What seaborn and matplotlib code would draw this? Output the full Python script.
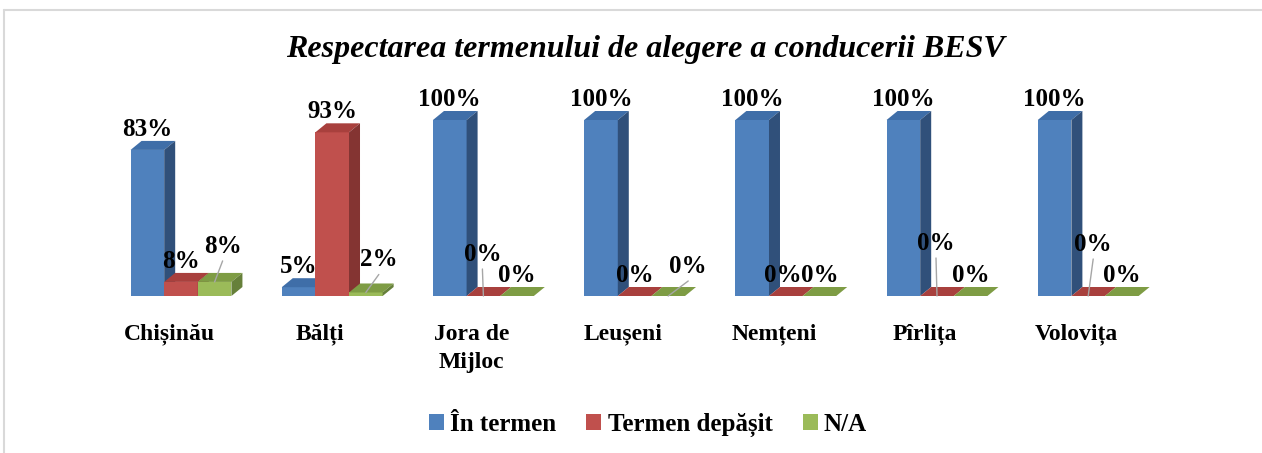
import pandas as pd
import seaborn as sns
import matplotlib.pyplot as plt
from matplotlib.patches import Polygon, Patch
from matplotlib.lines import Line2D
from matplotlib.transforms import ScaledTranslation

# data
categories = ["Chișinău", "Bălți", "Jora de\nMijloc", "Leușeni", "Nemțeni", "Pîrlița", "Volovița"]
series = ["În termen", "Termen depășit", "N/A"]
in_termen = [83, 5, 100, 100, 100, 100, 100]
termen_depasit = [8, 93, 0, 0, 0, 0, 0]
n_a = [8, 2, 0, 0, 0, 0, 0]

front = ["#4F81BD", "#C0504D", "#9BBB59"]
top = ["#3F6EA8", "#A8403D", "#7E9C44"]
side = ["#30507A", "#843432", "#66803A"]

rows = []
for s, vals in zip(series, [in_termen, termen_depasit, n_a]):
    for c, v in zip(categories, vals):
        rows.append({"raion": c, "serie": s, "val": v})
df = pd.DataFrame(rows)

sns.set_style("white")
plt.rcParams["font.family"] = ["Liberation Serif", "DejaVu Serif"]
plt.rcParams["text.color"] = "black"

W, H = 1262, 453
fig = plt.figure(figsize=(W / 100, H / 100), dpi=100)
ax = fig.add_axes([105.4 / W, (H - 296) / H, 1058.4 / W, 176 / H])

sns.barplot(data=df, x="raion", y="val", hue="serie", palette=front, width=0.667,
            gap=0, saturation=1, legend=False, ax=ax, linewidth=0)
ax.set_xlim(-0.5, 6.5)
ax.set_ylim(0, 100)

# pixel -> data
px = 7 / 1058.4
py = 100 / 176
dx, dy = 11 * px, 9 * py

# label tweaks: (series, category) -> (shift right px, shift up px, leader)
adjust = {
    (2, 0): (8, 15, True),
    (2, 1): (13, 12, True),
    (1, 2): (-1, 21, True),
    (2, 3): (20, 9, True),
    (1, 4): (-3, 0, False),
    (1, 5): (-1, 32, True),
    (1, 6): (5, 31, True),
}

for si, cont in enumerate(ax.containers):
    for ci, bar in enumerate(cont):
        x0, w, h = bar.get_x(), bar.get_width(), bar.get_height()
        z = 2 + ci * 3 + si
        bar.set_zorder(z)
        ax.add_patch(Polygon([(x0, h), (x0 + w, h), (x0 + w + dx, h + dy), (x0 + dx, h + dy)],
                             closed=True, fc=top[si], ec="none", zorder=z, clip_on=False))
        ax.add_patch(Polygon([(x0 + w, 0), (x0 + w, h), (x0 + w + dx, h + dy), (x0 + w + dx, dy)],
                             closed=True, fc=side[si], ec="none", zorder=z, clip_on=False))
        xc = x0 + w / 2
        sx, sy, leader = adjust.get((si, ci), (0, 0, False))
        tx = xc + sx * px
        ty = h + (14 + sy) * py
        ax.text(tx, ty, f"{h:.0f}%", ha="center", va="baseline", fontsize=18,
                fontweight="bold", color="black", zorder=50, clip_on=False)
        if leader:
            ax.plot([tx, xc], [ty - 8 * py, h], color="#A6A6A6", lw=1, zorder=49,
                    clip_on=False)

ax.set_xlabel("")
ax.set_ylabel("")
ax.set_yticks([])
ax.set_xticks(range(len(categories)))
ax.set_xticklabels(categories, fontsize=17, fontweight="bold", color="black",
                   linespacing=1.45)
ax.tick_params(axis="x", length=0, pad=20)
for lbl in ax.get_xticklabels():
    lbl.set_transform(lbl.get_transform() + ScaledTranslation(-0.12, 0, fig.dpi_scale_trans))
sns.despine(ax=ax, left=True, bottom=True)
ax.patch.set_alpha(0)

fig.text(645 / W, 1 - 50 / H, "Respectarea termenului de alegere a conducerii BESV",
         ha="center", va="center", fontsize=23, fontweight="bold", fontstyle="italic",
         color="black")

handles = [Patch(fc=c, ec="none") for c in front]
fig.legend(handles, series, loc="center", bbox_to_anchor=(648 / W, 1 - 425 / H), ncol=3,
           frameon=False, handlelength=0.6, handleheight=0.6, handletextpad=0.25,
           columnspacing=1.2, prop={"size": 18, "weight": "bold"})

fig.add_artist(Line2D([4 / W, 1], [1 - 10 / H] * 2, color="#D9D9D9", lw=1.5,
                      transform=fig.transFigure))
fig.add_artist(Line2D([4 / W] * 2, [0, 1 - 10 / H], color="#D9D9D9", lw=1.5,
                      transform=fig.transFigure))

fig.savefig("out.png", dpi=100)
